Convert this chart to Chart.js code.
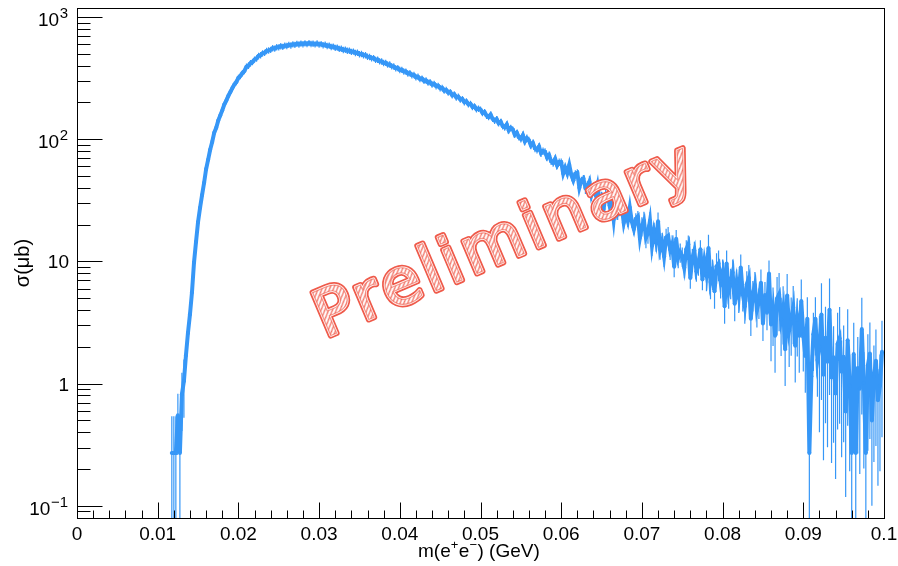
<!DOCTYPE html>
<html><head><meta charset="utf-8">
<script src="https://cdn.jsdelivr.net/npm/chart.js@4.4.1/dist/chart.umd.min.js"></script>
<style>html,body{margin:0;padding:0;background:#fff;}canvas{display:block;}</style>
</head><body>
<canvas id="c" width="898" height="566"></canvas>
<script>
// bin centres, MeV (x axis is shown in GeV)
const massMeV = [
11.75,
12,12.25,12.5,12.75, 13,13.25,13.5,13.75, 14,14.25,14.5,14.75, 15,15.25,15.5,15.75, 16,16.25,16.5,16.75,
17,17.25,17.5,17.75, 18,18.25,18.5,18.75, 19,19.25,19.5,19.75, 20,20.25,20.5,20.75, 21,21.25,21.5,21.75,
22,22.25,22.5,22.75, 23,23.25,23.5,23.75, 24,24.25,24.5,24.75, 25,25.25,25.5,25.75, 26,26.25,26.5,26.75,
27,27.25,27.5,27.75, 28,28.25,28.5,28.75, 29,29.25,29.5,29.75, 30,30.25,30.5,30.75, 31,31.25,31.5,31.75,
32,32.25,32.5,32.75, 33,33.25,33.5,33.75, 34,34.25,34.5,34.75, 35,35.25,35.5,35.75, 36,36.25,36.5,36.75,
37,37.25,37.5,37.75, 38,38.25,38.5,38.75, 39,39.25,39.5,39.75, 40,40.25,40.5,40.75, 41,41.25,41.5,41.75,
42,42.25,42.5,42.75, 43,43.25,43.5,43.75, 44,44.25,44.5,44.75, 45,45.25,45.5,45.75, 46,46.25,46.5,46.75,
47,47.25,47.5,47.75, 48,48.25,48.5,48.75, 49,49.25,49.5,49.75, 50,50.25,50.5,50.75, 51,51.25,51.5,51.75,
52,52.25,52.5,52.75, 53,53.25,53.5,53.75, 54,54.25,54.5,54.75, 55,55.25,55.5,55.75, 56,56.25,56.5,56.75,
57,57.25,57.5,57.75, 58,58.25,58.5,58.75, 59,59.25,59.5,59.75, 60,60.25,60.5,60.75, 61,61.25,61.5,61.75,
62,62.25,62.5,62.75, 63,63.25,63.5,63.75, 64,64.25,64.5,64.75, 65,65.25,65.5,65.75, 66,66.25,66.5,66.75,
67,67.25,67.5,67.75, 68,68.25,68.5,68.75, 69,69.25,69.5,69.75, 70,70.25,70.5,70.75, 71,71.25,71.5,71.75,
72,72.25,72.5,72.75, 73,73.25,73.5,73.75, 74,74.25,74.5,74.75, 75,75.25,75.5,75.75, 76,76.25,76.5,76.75,
77,77.25,77.5,77.75, 78,78.25,78.5,78.75, 79,79.25,79.5,79.75, 80,80.25,80.5,80.75, 81,81.25,81.5,81.75,
82,82.25,82.5,82.75, 83,83.25,83.5,83.75, 84,84.25,84.5,84.75, 85,85.25,85.5,85.75, 86,86.25,86.5,86.75,
87,87.25,87.5,87.75, 88,88.25,88.5,88.75, 89,89.25,89.5,89.75, 90,90.25,90.5,90.75, 91,91.25,91.5,91.75,
92,92.25,92.5,92.75, 93,93.25,93.5,93.75, 94,94.25,94.5,94.75, 95,95.25,95.5,95.75, 96,96.25,96.5,96.75,
97,97.25,97.5,97.75, 98,98.25,98.5,98.75, 99,99.25,99.5,99.75
];
// cross section, micro-barn
const sigmaMicroBarn = [
0.27,
0.27,0.27,0.55,0.27, 0.82,1.05,1.7,2.6, 3.7,5.6,9.8,14.5, 21,27.5,35,44, 57,68,82,95,
113,124,142,156, 172,192,207,226, 243,262,280,294, 318,330,348,362, 392,400,419,428,
449,458,481,487, 505,510,528,533, 539,556,552,566, 565,578,571,584, 580,592,586,598,
593,604,597,607, 599,610,601,612, 603,606,598,608, 596,601,588,594, 580,584,569,574,
560,563,549,551, 538,541,530,531, 519,522,509,511, 497,499,486,487, 474,472,460,462,
447,448,434,433, 421,422,408,409, 395,394,381,382, 369,370,358,358, 345,347,334,336,
322,325,311,314, 301,303,291,293, 281,284,272,274, 262,263,250,253, 241,243,229,233,
220,223,211,213, 201,204,193,195, 184,186,176,178, 175,164,167,156, 152,159,147,142,
146,135,139,128, 125,132,118,124, 120,109,113,104, 101,108,96,102, 98,89,93,84,
82,87,77,80, 79,71,74,66, 64,69,61,65, 64.9,52.4,58.5,52.8, 61.6,51.3,46.2,52.1,
53.0,40.1,46.1,47.7, 40.1,40.8,44.9,35.0, 39.4,35.2,41.9,31.7, 33.5,26.8,34.8,35.2, 28.7,30.7,22.0,32.3,
24.5,26.3,28.0,20.7, 24.7,21.5,27.6,21.2, 18.4,22.3,23.3,15.6, 19.5,21.6,15.6,17.0, 21.5,13.5,17.6,14.6,
21.3,12.6,14.5,11.0, 15.7,16.2,12.5,13.9, 9.05,15.3,10.7,11.9, 11.0,8.9,12.6,13.8, 7.3,10.7,12.3,8.3,
9.3,12.6,7.1,10.0, 7.9,12.9,6.8,8.1, 5.7,9.1,9.6,6.9, 8.1,4.3,9.6,5.7, 6.8,8.1,4.5,6.7,
5.25,8.9,5.4,4.3, 6.5,7.3,3.4,5.4, 6.4,4.0,4.7,6.7, 3.1,5.3,3.8,7.95, 3.05,4.07,2.46,4.96,
5.37,3.36,4.17,1.91, 5.25,2.74,3.38,4.19, 2.04,3.33,2.46,4.75, 2.51,1.68,3.39,0.27, 1.15,2.54,3.39,1.56,
2.0,3.68,1.18,2.37, 1.51,4.03,1.12,1.64, 0.83,2.11,2.35,1.25, 1.66,0.59,2.26,0.96, 0.27,1.75,0.27,1.34,
0.91,2.8,1.01,0.27, 1.41,1.76,0.5,1.14, 1.54,0.73,0.96,1.82
];
// estimated relative error-bar size by mass range (MeV)
const relErrEdgesMeV = [11.5, 13.5, 15, 45, 55, 63, 70, 78, 86, 92, 100];
const relErrByRange  = [0.5, 0.12, 0.06, 0.06, 0.07, 0.11, 0.18, 0.28, 0.5, 0.8];
const singleCountLevel = 0.3; // bins at this level carry a 100% error

const xTickValues = [0, 0.01, 0.02, 0.03, 0.04, 0.05, 0.06, 0.07, 0.08, 0.09, 0.1];
const xTickLabels = ['0','0.01','0.02','0.03','0.04','0.05','0.06','0.07','0.08','0.09','0.1'];
const yTickValues = [0.1, 1, 10, 100, 1000];
const yTickBase   = ['10','1','10','10','10'];
const yTickExp    = ['\u22121','','','2','3'];
const yTitle = '\u03c3(\u03bcb)';
const watermark = 'Preliminary';

const BLUE = '#3697f7';
const RED = '#ef5a4a';
const FONT = '"Liberation Sans", Arial, sans-serif';

function relErrFor(m, v) {
  if (v <= singleCountLevel) return 1.0;
  for (let i = 0; i < relErrByRange.length; i++) if (m < relErrEdgesMeV[i + 1]) return relErrByRange[i];
  return relErrByRange[relErrByRange.length - 1];
}

const errorBars = {
  id: 'errorBars',
  beforeDatasetsDraw(chart) {
    const {ctx, chartArea: a, scales: {x, y}} = chart;
    ctx.save();
    ctx.beginPath(); ctx.rect(a.left, a.top, a.right - a.left, a.bottom - a.top); ctx.clip();
    ctx.strokeStyle = BLUE;
    ctx.lineWidth = 1.2;
    ctx.beginPath();
    massMeV.forEach((m, i) => {
      const v = sigmaMicroBarn[i];
      const e = v * relErrFor(m, v);
      const px = x.getPixelForValue(m / 1000);
      const pyHi = y.getPixelForValue(v + e);
      const lo = v - e;
      const pyLo = lo > y.min ? y.getPixelForValue(lo) : a.bottom;
      ctx.moveTo(px, pyHi); ctx.lineTo(px, pyLo);
      const py = y.getPixelForValue(v);
      ctx.moveTo(x.getPixelForValue((m - 0.125) / 1000), py);
      ctx.lineTo(x.getPixelForValue((m + 0.125) / 1000), py);
    });
    ctx.stroke();
    ctx.restore();
  }
};

function makeHatch(ctx) {
  const c = document.createElement('canvas');
  c.width = 5; c.height = 5;
  const g = c.getContext('2d');
  g.strokeStyle = RED; g.lineWidth = 1.3;
  g.beginPath();
  g.moveTo(0, 5); g.lineTo(5, 0);
  g.moveTo(-1, 1); g.lineTo(1, -1);
  g.moveTo(4, 6); g.lineTo(6, 4);
  g.stroke();
  return ctx.createPattern(c, 'repeat');
}

const rootAxes = {
  id: 'rootAxes',
  afterDraw(chart) {
    const {ctx, chartArea: a, scales: {x, y}} = chart;
    ctx.save();
    // frame
    ctx.strokeStyle = '#000'; ctx.lineWidth = 1;
    const L = Math.round(a.left) + 0.5, R = Math.round(a.right) + 0.5;
    const T = Math.round(a.top) + 0.5, B = Math.round(a.bottom) + 0.5;
    ctx.strokeRect(L, T, R - L, B - T);
    // y ticks (log): major at decades, minor at 2..9
    ctx.beginPath();
    for (let d = -2; d <= 3; d++) {
      for (let k = 1; k <= 9; k++) {
        const v = k * Math.pow(10, d);
        if (v < y.min * 0.999 || v > y.max) continue;
        const py = Math.round(y.getPixelForValue(v)) + 0.5;
        const len = k === 1 ? 25 : 13;
        ctx.moveTo(L, py); ctx.lineTo(L + len, py);
      }
    }
    // x ticks: major every 0.01, minor every 0.002
    for (let i = 0; i <= 50; i++) {
      const px = Math.round(x.getPixelForValue(i * 0.002)) + 0.5;
      const len = i % 5 === 0 ? 16 : 8;
      ctx.moveTo(px, B); ctx.lineTo(px, B - len);
    }
    ctx.stroke();

    // x labels
    ctx.fillStyle = '#000';
    ctx.font = '19px ' + FONT;
    ctx.textAlign = 'center'; ctx.textBaseline = 'alphabetic';
    xTickValues.forEach((v, i) => {
      ctx.fillText(xTickLabels[i], x.getPixelForValue(v), 540);
    });
    // y labels
    yTickValues.forEach((v, i) => {
      const py = y.getPixelForValue(v);
      const right = 68;
      ctx.textAlign = 'right';
      if (yTickExp[i]) {
        ctx.font = '15px ' + FONT;
        const ew = ctx.measureText(yTickExp[i]).width;
        ctx.fillText(yTickExp[i], right, py + 1);
        ctx.font = '19px ' + FONT;
        ctx.fillText(yTickBase[i], right - ew - 0.5, py + 9);
      } else {
        ctx.font = '19px ' + FONT;
        ctx.fillText(yTickBase[i], right + 1, py + 7);
      }
    });
    // y title
    ctx.save();
    ctx.translate(29, 263);
    ctx.rotate(-Math.PI / 2);
    ctx.textAlign = 'center';
    ctx.font = '20px ' + FONT;
    ctx.fillText(yTitle, 0, 0);
    ctx.restore();
    // x title m(e+e-) (GeV)
    ctx.textAlign = 'left';
    let cx = 418; const base = 557;
    const parts = [['m(e', 19, 0], ['+', 13, -8], ['e', 19, 0], ['\u2212', 13, -8], [') (GeV)', 19, 0]];
    parts.forEach(([t, s, dy]) => {
      ctx.font = s + 'px ' + FONT;
      ctx.fillText(t, cx, base + dy);
      cx += ctx.measureText(t).width + (s < 19 ? 0.5 : 0);
    });

    // watermark
    ctx.save();
    ctx.translate(325, 338);
    ctx.rotate(-23 * Math.PI / 180);
    const fs = 64;
    ctx.font = fs + 'px "DejaVu Sans"';
    ctx.letterSpacing = '0px';
    const w0 = ctx.measureText(watermark).width;
    const sp = Math.max(0, (405 - w0) / (watermark.length - 1));
    ctx.letterSpacing = sp.toFixed(1) + 'px';
    ctx.textAlign = 'left'; ctx.textBaseline = 'alphabetic';
    ctx.lineJoin = 'round';
    ctx.lineWidth = 6;
    ctx.strokeStyle = RED;
    ctx.strokeText(watermark, 0, 0);
    ctx.lineWidth = 2.5;
    ctx.strokeStyle = '#fff';
    ctx.strokeText(watermark, 0, 0);
    ctx.fillStyle = '#fff';
    ctx.fillText(watermark, 0, 0);
    ctx.fillStyle = makeHatch(ctx);
    ctx.globalAlpha = 0.85;
    ctx.fillText(watermark, 0, 0);
    ctx.lineWidth = 1.2;
    ctx.strokeStyle = RED;
    ctx.globalAlpha = 0.6;
    ctx.strokeText(watermark, 0, 0);
    ctx.restore();

    ctx.restore();
  }
};

const points = massMeV.map((m, i) => ({x: m / 1000, y: sigmaMicroBarn[i]}));

new Chart(document.getElementById('c'), {
  type: 'scatter',
  data: { datasets: [{
    data: points,
    showLine: true,
    borderWidth: 4,
    borderColor: BLUE,
    tension: 0,
    pointRadius: 2,
    pointHoverRadius: 2,
    pointBorderWidth: 0,
    pointBackgroundColor: BLUE
  }]},
  options: {
    responsive: false,
    animation: false,
    devicePixelRatio: 1,
    layout: { padding: { left: 77, top: 8, right: 14, bottom: 48 } },
    plugins: { legend: { display: false }, tooltip: { enabled: false } },
    scales: {
      x: { type: 'linear', min: 0, max: 0.1, display: false },
      y: { type: 'logarithmic', min: 0.0795, max: 1185, display: false }
    }
  },
  plugins: [errorBars, rootAxes]
});
</script>
</body></html>
